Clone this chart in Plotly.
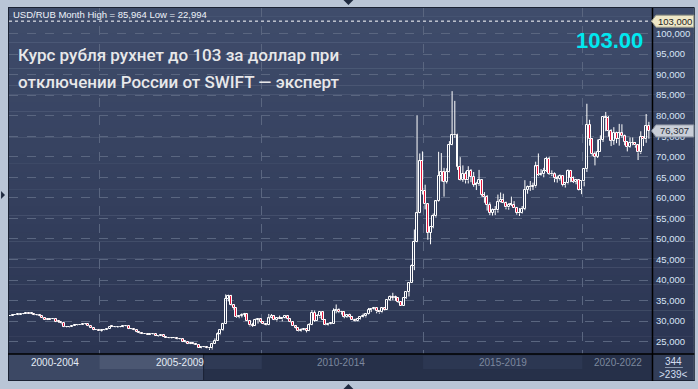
import plotly.graph_objects as go

# ---------------- DATA (monthly USD/RUB, Apr 2002 .. Feb 2022) ----------------
years_months = []
for y in range(2002, 2023):
    for m in range(1, 13):
        if (y == 2002 and m < 4) or (y == 2022 and m > 2):
            continue
        years_months.append(f"{y}-{m:02d}")

open_ = [
    31.14, 31.21, 31.33, 31.45, 31.52, 31.60, 31.64, 31.72, 31.86,
    31.78, 31.82, 31.39, 31.39, 31.15, 30.77, 30.35, 30.34, 30.50, 30.61, 29.85, 29.80,
    29.45, 28.49, 28.52, 28.53, 28.85, 29.03, 29.03, 29.08, 29.22, 29.22, 28.76, 28.38,
    27.75, 27.96, 27.70, 27.91, 27.77, 28.15, 28.67, 28.66, 28.48, 28.50, 28.56, 28.77,
    28.78, 28.12, 28.00, 27.76, 27.38, 27.06, 26.97, 26.83, 26.74, 26.78, 26.76, 26.32,
    26.33, 26.58, 26.06, 26.01, 25.87, 25.88, 25.82, 25.54, 25.61, 24.95, 24.95, 24.45,
    24.55, 24.48, 24.17, 23.51, 23.63, 23.75, 23.46, 23.38, 24.52, 25.25, 26.75, 27.76,
    29.38, 35.42, 36.09, 34.01, 33.15, 30.98, 31.29, 31.54, 31.64, 30.09, 28.95, 28.86,
    30.24, 30.43, 29.88, 29.36, 29.13, 30.66, 31.20, 30.19, 30.70, 30.40, 30.84, 31.29,
    30.48, 29.80, 28.73, 28.43, 27.50, 27.83, 28.08, 27.60, 28.94, 32.03, 30.09, 31.13,
    32.20, 30.36, 28.95, 29.33, 29.37, 32.46, 32.82, 32.19, 32.17, 31.05, 31.47, 31.05,
    30.37, 30.02, 30.61, 31.08, 31.16, 31.65, 32.71, 32.89, 33.24, 32.35, 32.11, 33.13,
    32.73, 35.24, 35.87, 35.69, 35.65, 34.74, 33.63, 35.73, 37.07, 39.38, 43.39, 49.32,
    56.26, 68.93, 61.73, 58.46, 51.44, 52.97, 55.52, 59.14, 65.36, 66.24, 63.89, 66.36,
    72.88, 75.20, 75.41, 67.61, 64.39, 65.83, 64.26, 66.62, 65.10, 63.16, 63.35, 64.32,
    60.66, 60.16, 58.36, 56.38, 57.01, 56.95, 59.09, 59.54, 58.74, 57.69, 58.33, 58.32,
    57.60, 56.29, 56.22, 57.26, 61.99, 62.59, 62.76, 62.78, 67.65, 65.59, 65.74, 66.64,
    69.47, 65.83, 65.72, 64.73, 64.61, 65.39, 63.08, 63.50, 66.54, 64.85, 63.87, 64.31,
    61.91, 63.99, 66.99, 77.73, 74.23, 70.74, 69.95, 71.28, 74.13, 79.68, 79.33, 76.23,
    73.88, 75.87, 74.30, 75.70, 75.00, 73.59, 72.37, 73.36, 73.31, 72.76, 71.06, 74.89,
    74.29, 77.50,
]
high = [
    31.25, 31.36, 31.46, 31.60, 31.62, 31.66, 31.75, 31.88, 31.90,
    31.88, 31.84, 31.45, 31.42, 31.18, 30.80, 30.45, 30.55, 30.68, 30.62, 29.90, 29.82,
    29.48, 28.60, 28.58, 28.90, 29.08, 29.10, 29.15, 29.28, 29.28, 29.25, 28.80, 28.42,
    28.05, 28.10, 27.95, 27.98, 28.20, 28.72, 28.79, 28.70, 28.60, 28.70, 28.85, 28.88,
    28.80, 28.25, 28.05, 27.80, 27.40, 27.15, 27.00, 26.90, 26.85, 26.90, 26.80, 26.40,
    26.62, 26.60, 26.12, 26.05, 25.95, 25.92, 25.85, 25.80, 25.65, 25.05, 24.98, 24.75,
    24.65, 24.70, 24.20, 23.75, 23.95, 23.82, 23.50, 24.75, 25.80, 27.25, 27.90, 29.60,
    36.50, 36.43, 36.40, 34.10, 33.25, 31.50, 31.90, 32.00, 31.70, 30.15, 29.60, 30.60,
    30.65, 30.50, 30.00, 29.50, 31.75, 31.70, 31.40, 30.90, 31.35, 31.00, 31.50, 31.50,
    30.60, 29.90, 28.95, 28.50, 28.25, 28.30, 28.15, 29.50, 32.70, 32.60, 31.70, 32.20,
    32.30, 30.50, 29.60, 29.70, 33.10, 34.05, 33.10, 32.50, 32.30, 31.70, 31.80, 31.20,
    30.60, 30.75, 31.20, 31.85, 31.80, 33.20, 33.05, 33.45, 33.30, 32.50, 33.30, 33.30,
    35.25, 36.25, 36.90, 36.20, 35.70, 34.80, 35.80, 37.10, 39.50, 43.80, 52.30, 80.10,
    70.80, 71.30, 63.20, 58.50, 53.00, 56.20, 59.40, 71.20, 70.90, 67.30, 67.20, 73.80,
    85.964, 83.60, 75.60, 69.90, 67.90, 66.40, 67.70, 67.00, 66.30, 63.90, 66.80, 64.50,
    61.40, 60.70, 58.90, 57.40, 58.00, 60.80, 61.30, 61.00, 59.10, 58.70, 60.30, 59.20,
    57.80, 57.50, 58.00, 64.30, 63.00, 64.10, 63.70, 68.80, 70.80, 67.00, 67.30, 70.00,
    70.00, 66.70, 66.20, 65.40, 65.70, 65.50, 63.90, 66.90, 66.80, 65.20, 64.60, 64.50,
    64.00, 67.20, 82.90, 79.00, 74.50, 71.30, 74.20, 75.20, 79.80, 80.90, 79.90, 76.70,
    77.20, 76.10, 78.00, 77.90, 75.40, 73.80, 74.70, 74.70, 73.60, 73.00, 76.20, 75.00,
    80.40, 78.50,
]
low = [
    31.10, 31.18, 31.30, 31.42, 31.45, 31.55, 31.60, 31.70, 31.74,
    31.70, 31.35, 31.30, 31.10, 30.70, 30.30, 30.25, 30.30, 30.45, 29.75, 29.60, 29.25,
    28.45, 28.45, 28.45, 28.50, 28.82, 28.95, 29.00, 29.05, 29.15, 28.70, 28.35, 27.70,
    27.72, 27.68, 27.45, 27.70, 27.75, 28.12, 28.60, 28.40, 28.35, 28.45, 28.50, 28.70,
    28.05, 27.95, 27.70, 27.30, 26.95, 26.85, 26.80, 26.70, 26.70, 26.70, 26.30, 26.20,
    26.30, 26.03, 25.98, 25.80, 25.78, 25.78, 25.45, 25.48, 24.90, 24.78, 24.40, 24.40,
    24.35, 24.15, 23.48, 23.40, 23.55, 23.40, 22.994, 23.10, 24.45, 25.20, 26.60, 27.60,
    29.30, 34.80, 33.80, 32.80, 30.80, 30.70, 30.90, 31.05, 30.00, 28.70, 28.60, 28.80,
    29.40, 29.60, 29.25, 28.95, 29.00, 30.60, 30.15, 29.90, 30.40, 29.95, 30.65, 30.40,
    29.70, 28.70, 28.20, 27.40, 27.35, 27.75, 27.25, 27.55, 28.90, 29.80, 30.05, 30.70,
    30.30, 28.90, 28.80, 29.20, 29.30, 31.90, 31.95, 31.60, 30.70, 30.80, 30.90, 30.40,
    29.90, 29.95, 30.40, 30.90, 30.90, 31.55, 32.20, 32.70, 31.90, 31.80, 31.95, 32.60,
    32.70, 34.90, 35.10, 34.95, 34.40, 33.60, 33.60, 35.40, 36.00, 39.35, 42.40, 49.20,
    56.20, 60.80, 57.20, 49.80, 48.70, 52.60, 55.20, 59.00, 64.00, 60.30, 63.50, 66.20,
    72.80, 74.60, 66.80, 64.20, 63.90, 63.50, 63.50, 63.80, 62.70, 61.90, 62.90, 60.30,
    58.80, 56.90, 55.80, 55.70, 55.80, 56.40, 58.90, 58.70, 57.20, 57.10, 58.00, 57.60,
    55.90, 55.60, 56.10, 57.00, 61.00, 61.70, 61.90, 62.50, 65.30, 65.40, 65.00, 66.30,
    65.60, 65.30, 63.80, 63.70, 64.20, 62.80, 62.50, 63.30, 63.80, 63.60, 63.30, 61.80,
    60.90, 62.80, 66.30, 72.70, 70.20, 67.90, 69.70, 71.20, 73.60, 76.20, 74.90, 72.60,
    72.90, 73.30, 72.70, 74.60, 72.80, 71.30, 72.20, 72.80, 72.20, 69.20, 70.70, 72.60,
    73.40, 74.40,
]
close = [
    31.21, 31.33, 31.45, 31.52, 31.60, 31.64, 31.72, 31.86, 31.78,
    31.82, 31.39, 31.39, 31.15, 30.77, 30.35, 30.34, 30.50, 30.61, 29.85, 29.80, 29.45,
    28.49, 28.52, 28.53, 28.85, 29.03, 29.03, 29.08, 29.22, 29.22, 28.76, 28.38, 27.75,
    27.96, 27.70, 27.91, 27.77, 28.15, 28.67, 28.66, 28.48, 28.50, 28.56, 28.77, 28.78,
    28.12, 28.00, 27.76, 27.38, 27.06, 26.97, 26.83, 26.74, 26.78, 26.76, 26.32, 26.33,
    26.58, 26.06, 26.01, 25.87, 25.88, 25.82, 25.54, 25.61, 24.95, 24.95, 24.45, 24.55,
    24.48, 24.17, 23.51, 23.63, 23.75, 23.46, 23.38, 24.52, 25.25, 26.75, 27.76, 29.38,
    35.42, 36.09, 34.01, 33.15, 30.98, 31.29, 31.54, 31.64, 30.09, 28.95, 28.86, 30.24,
    30.43, 29.88, 29.36, 29.13, 30.66, 31.20, 30.19, 30.70, 30.40, 30.84, 31.29, 30.48,
    29.80, 28.73, 28.43, 27.50, 27.83, 28.08, 27.60, 28.94, 32.03, 30.09, 31.13, 32.20,
    30.36, 28.95, 29.33, 29.37, 32.46, 32.82, 32.19, 32.17, 31.05, 31.47, 31.05, 30.37,
    30.02, 30.61, 31.08, 31.16, 31.65, 32.71, 32.89, 33.24, 32.35, 32.11, 33.13, 32.73,
    35.24, 35.87, 35.69, 35.65, 34.74, 33.63, 35.73, 37.07, 39.38, 43.39, 49.32, 56.26,
    68.93, 61.73, 58.46, 51.44, 52.97, 55.52, 59.14, 65.36, 66.24, 63.89, 66.36, 72.88,
    75.20, 75.41, 67.61, 64.39, 65.83, 64.26, 66.62, 65.10, 63.16, 63.35, 64.32, 60.66,
    60.16, 58.36, 56.38, 57.01, 56.95, 59.09, 59.54, 58.74, 57.69, 58.33, 58.32, 57.60,
    56.29, 56.22, 57.26, 61.99, 62.59, 62.76, 62.78, 67.65, 65.59, 65.74, 66.64, 69.47,
    65.83, 65.72, 64.73, 64.61, 65.39, 63.08, 63.50, 66.54, 64.85, 63.87, 64.31, 61.91,
    63.99, 66.99, 77.73, 74.23, 70.74, 69.95, 71.28, 74.13, 79.68, 79.33, 76.23, 73.88,
    75.87, 74.30, 75.70, 75.00, 73.59, 72.37, 73.36, 73.31, 72.76, 71.06, 74.89, 74.29,
    77.50, 76.307,
]

y_ticks = [25, 30, 35, 40, 45, 50, 55, 60, 65, 70, 75, 80, 85, 90, 95, 100]
period_labels = ["2000-2004", "2005-2009", "2010-2014", "2015-2019", "2020-2022"]
target_level = 103.0
title_lines = ["Курс рубля рухнет до 103 за доллар при",
               "отключении России от SWIFT — эксперт"]
total_bars = 344
visible_bars = len(close)

# ---------------- LAYOUT HELPERS ----------------
W, H = 698, 389
PL, PR, PT, PB = 9, 655, 8, 354  # plot area in px


def fx(px):
    return (px - PL) / (PR - PL)


def fy(py):
    return (PB - py) / (PB - PT)


def fmt(v):
    return f"{v:,.3f}".replace(",", " ").replace(".", ",").replace(" ", ".")


def lerp_col(c1, c2, t):
    a = [int(c1[i:i + 2], 16) for i in (1, 3, 5)]
    b = [int(c2[i:i + 2], 16) for i in (1, 3, 5)]
    return "#" + "".join(f"{round(a[k] + (b[k] - a[k]) * t):02x}" for k in range(3))


xs = list(range(visible_bars))
x0_px, step_px = 7.35, 2.708
x_range = [(PL - x0_px) / step_px, (PR - x0_px) / step_px]
grid_px = [100, 263, 425, 585]
grid_x = [(p - x0_px) / step_px for p in grid_px]

# candle geometry derived from the OHLC lists
body_lo = [min(o, c) for o, c in zip(open_, close)]
body_hi = [max(o, c) for o, c in zip(open_, close)]
body_h = [max(h - l, 0.12) for h, l in zip(body_hi, body_lo)]
is_up = [c >= o for o, c in zip(open_, close)]

wx, wy = [], []
for i in xs:
    wx += [i, i, None, i, i, None]
    wy += [high[i], body_hi[i], None, body_lo[i], low[i], None]

fig = go.Figure()
fig.add_trace(go.Scatter(x=wx, y=wy, mode="lines", line=dict(color="#ffffff", width=1),
                         hoverinfo="skip", showlegend=False))
fig.add_trace(go.Bar(
    x=xs, y=body_h, base=body_lo, width=0.74,
    marker=dict(color=["rgba(0,0,0,0)" if u else "#e5163c" for u in is_up],
                line=dict(color="#ffffff", width=1)),
    text=years_months, hoverinfo="text", textposition="none", showlegend=False,
))

shapes = []
nb = 40
top_c, bot_c = "#3f4c6b", "#2b3552"
for k in range(nb):
    y0 = PT + (PB - PT) * k / nb
    y1 = PT + (PB - PT) * (k + 1) / nb
    shapes.append(dict(type="rect", xref="paper", yref="paper", layer="below",
                       x0=fx(PL), x1=fx(697), y0=fy(y1), y1=fy(y0) + 0.001,
                       fillcolor=lerp_col(top_c, bot_c, (k + 0.5) / nb), line_width=0))


def prect(x0, x1, y0, y1, col, layer="below"):
    shapes.append(dict(type="rect", xref="paper", yref="paper", layer=layer,
                       x0=fx(x0), x1=fx(x1), y0=fy(y1), y1=fy(y0),
                       fillcolor=col, line_width=0))


prect(PL, PR, 354, 380.5, "#263049")
prect(PL, 204, 354, 380.5, "#3c4864")
prect(100, 204, 355.5, 369, "#4b5772")
prect(204, 263, 355.5, 369, "#2f3a55")
prect(425, 585, 355.5, 369, "#2c3752")
prect(204, 205, 354, 380.5, "#1c2335")
prect(PR, 697, 354, 380.5, "#323e59")


def pline(x0, y0, x1, y1, col, w=1, layer="above"):
    shapes.append(dict(type="line", xref="paper", yref="paper", layer=layer,
                       x0=fx(x0), y0=fy(y0), x1=fx(x1), y1=fy(y1),
                       line=dict(color=col, width=w)))


pline(8, 7.5, 697.5, 7.5, "#1a2233", 1)
pline(8.5, 7.5, 8.5, 381, "#1a2233", 1)
pline(8, 380.5, 697.5, 380.5, "#1a2233", 1)
pline(697.5, 7.5, 697.5, 381, "#1a2233", 1)
pline(PR + 0.5, 8, PR + 0.5, 381, "#000000", 1.5)
pline(8, 354, 697.5, 354, "#000000", 1.5)
pline(668, 367.5, 686, 367.5, "#8a98ae", 1)

shapes.append(dict(type="line", xref="paper", yref="y", x0=0, x1=1,
                   y0=target_level, y1=target_level, layer="above",
                   line=dict(color="#ffffff", width=1, dash="dot")))


def tag(val, fill, border):
    yc = 341.7 - (val - 25) * 4.109
    x_tip, x_l, x_r = 654.5, 659, 697
    h = 6
    path = (f"M {fx(x_tip)},{fy(yc)} L {fx(x_l)},{fy(yc - h)} L {fx(x_r)},{fy(yc - h)} "
            f"L {fx(x_r)},{fy(yc + h)} L {fx(x_l)},{fy(yc + h)} Z")
    shapes.append(dict(type="path", xref="paper", yref="paper", path=path, layer="above",
                       fillcolor=fill, line=dict(color=border, width=1)))
    return yc


y103 = tag(target_level, "#efe8c8", "#9a9a88")
ylast = tag(close[-1], "#c9ced8", "#8d94a2")


def tri(pts, col):
    path = "M " + " L ".join(f"{fx(a)},{fy(b)}" for a, b in pts) + " Z"
    shapes.append(dict(type="path", xref="paper", yref="paper", path=path,
                       fillcolor=col, line_width=0, layer="above"))


tri([(345, 0), (355, 0), (350, 5)], "#1f2a40")
tri([(345, 389), (355, 389), (350, 384)], "#1f2a40")
tri([(1, 191), (1, 199), (5, 195)], "#1f2a40")

anns = []
FONT = "Liberation Sans, Arial, sans-serif"
TFONT = "Roboto, Liberation Sans, Arial, sans-serif"
anns.append(dict(text=f"USD/RUB Month High = {fmt(max(high))} Low = {fmt(min(low))}",
                 x=fx(11), y=fy(15), xref="paper", yref="paper", xanchor="left",
                 yanchor="middle", showarrow=False,
                 font=dict(family=FONT, size=9.5, color="#eef2fa")))
for i, line in enumerate(title_lines):
    anns.append(dict(text=line, x=fx(16), y=fy(55 + 27 * i), xref="paper", yref="paper",
                     xanchor="left", yanchor="middle", showarrow=False,
                     font=dict(family=TFONT, size=17, color="#e8e8ea", weight=500)))
anns.append(dict(text=f"<b>{target_level:.2f}</b>", x=fx(647.5), y=fy(40.5),
                 xref="paper", yref="paper", xanchor="right", yanchor="middle",
                 showarrow=False, font=dict(family=FONT, size=22, color="#00e8f0")))
anns.append(dict(text=fmt(target_level), x=fx(678), y=fy(y103), xref="paper", yref="paper",
                 xanchor="center", yanchor="middle", showarrow=False,
                 font=dict(family=FONT, size=9.5, color="#1c1c1c")))
anns.append(dict(text=fmt(close[-1]), x=fx(678), y=fy(ylast), xref="paper", yref="paper",
                 xanchor="center", yanchor="middle", showarrow=False,
                 font=dict(family=FONT, size=9.5, color="#2a2e38")))
period_px = [55, 181, 343, 505.5, 621]
period_col = ["#e4ecf6", "#e4ecf6", "#7c889e", "#7c889e", "#7c889e"]
for lab, px, col in zip(period_labels, period_px, period_col):
    anns.append(dict(text=lab, x=fx(px), y=fy(362.5), xref="paper", yref="paper",
                     xanchor="center", yanchor="middle", showarrow=False,
                     font=dict(family=FONT, size=10, color=col)))
anns.append(dict(text=str(total_bars), x=fx(677), y=fy(361.5), xref="paper", yref="paper",
                 xanchor="center", yanchor="middle", showarrow=False,
                 font=dict(family=FONT, size=10, color="#d4def0")))
anns.append(dict(text=f"&gt;{visible_bars}&lt;", x=fx(677), y=fy(374.5), xref="paper",
                 yref="paper", xanchor="center", yanchor="middle", showarrow=False,
                 font=dict(family=FONT, size=10, color="#d4def0")))

fig.update_layout(
    width=W, height=H, autosize=False,
    margin=dict(l=PL, r=W - PR, t=PT, b=H - PB, pad=0),
    paper_bgcolor="#b9c5d6", plot_bgcolor="rgba(0,0,0,0)",
    shapes=shapes, annotations=anns, bargap=0,
    xaxis=dict(range=x_range, tickvals=grid_x, showticklabels=False, ticks="",
               showgrid=True, gridcolor="#5a6680", griddash="dash", gridwidth=1,
               zeroline=False, showline=False, fixedrange=True),
    yaxis=dict(range=[22.0, 106.2], side="right", tickvals=y_ticks,
               ticktext=[fmt(v) for v in y_ticks], ticks="", ticklabelstandoff=3,
               tickfont=dict(family=FONT, size=9.5, color="#d8e4f6"),
               showgrid=True, gridcolor="#5a6680", griddash="dash", gridwidth=1,
               zeroline=False, showline=False, fixedrange=True),
    showlegend=False,
    hovermode="closest",
)

fig.write_html("out.html")
